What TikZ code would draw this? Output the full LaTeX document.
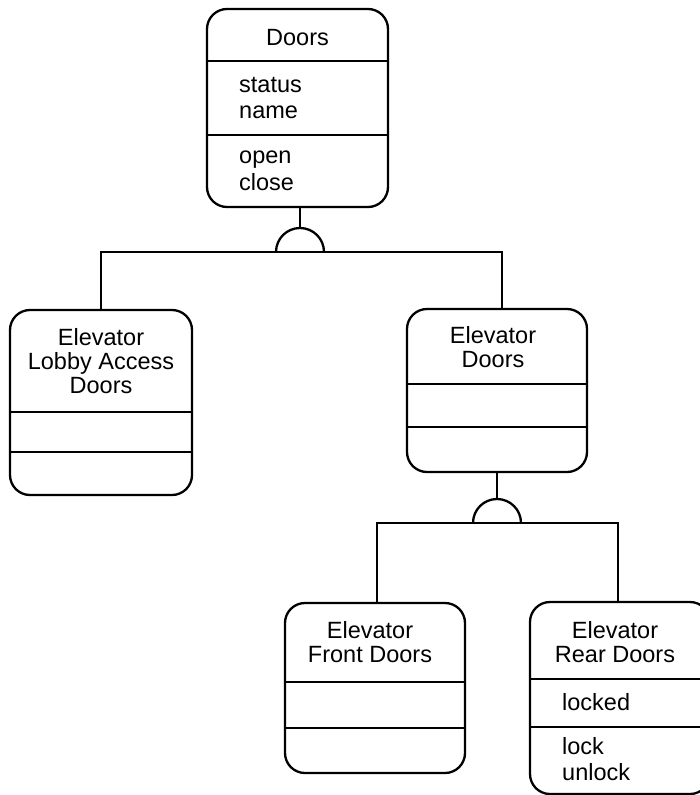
\documentclass[tikz,border=0pt]{standalone}
\usepackage{fontspec}
\setmainfont{Liberation Sans}
\usetikzlibrary{positioning}

\tikzset{
  classbox/.style={rectangle, rounded corners=20pt, draw=black, line width=2.3pt, inner sep=0pt},
  rule/.style={draw=black, line width=2.3pt},
  link/.style={draw=black, line width=2.3pt},
  ttl/.style={align=center, inner sep=0pt, font=\fontsize{23.5}{24}\selectfont},
  attr/.style={align=left, inner sep=0pt, font=\fontsize{23.5}{26.5}\selectfont}
}

\begin{document}
\begin{tikzpicture}[x=1pt, y=1pt]
\clip (0,0) rectangle (700,-795);
\useasboundingbox (0,0) rectangle (700,-795);

% Class boxes
\node (doors) [classbox, minimum width=181pt, minimum height=198pt] at (297.5,-108) {};
\node (lobby) [classbox, minimum width=182pt, minimum height=185pt] at (101,-402.5) {};
\node (elev) [classbox, minimum width=180pt, minimum height=163pt] at (497,-390.5) {};
\node (front) [classbox, minimum width=180pt, minimum height=170pt] at (375,-688) {};
\node (rear) [classbox, minimum width=180pt, minimum height=192pt] at (620,-698) {};

% Compartment lines
\draw[rule] (doors.west |- 0,-61) -- (doors.east |- 0,-61);
\draw[rule] (doors.west |- 0,-135) -- (doors.east |- 0,-135);
\draw[rule] (lobby.west |- 0,-412) -- (lobby.east |- 0,-412);
\draw[rule] (lobby.west |- 0,-452) -- (lobby.east |- 0,-452);
\draw[rule] (elev.west |- 0,-384) -- (elev.east |- 0,-384);
\draw[rule] (elev.west |- 0,-427) -- (elev.east |- 0,-427);
\draw[rule] (front.west |- 0,-682) -- (front.east |- 0,-682);
\draw[rule] (front.west |- 0,-728) -- (front.east |- 0,-728);
\draw[rule] (rear.west |- 0,-679) -- (rear.east |- 0,-679);
\draw[rule] (rear.west |- 0,-727) -- (rear.east |- 0,-727);

% Names and members
\node (doorsname) [ttl, anchor=north] at (297.5,-29) {Doors};
\node (doorsattr) [attr, anchor=north west] at (239,-77) {status\\name};
\node (doorsops) [attr, anchor=north west] at (239,-151) {open\\close};
\node (lobbyname) [ttl, anchor=north] at (101,-328) {Elevator\\Lobby Access\\Doors};
\node (elevname) [ttl, anchor=north] at (493,-326) {Elevator\\Doors};
\node (frontname) [ttl, anchor=north] at (370,-621) {Elevator\\Front Doors};
\node (rearname) [ttl, anchor=north] at (615,-621) {Elevator\\Rear Doors};
\node (rearattr) [attr, anchor=north west] at (562,-693) {locked};
\node (rearops) [attr, anchor=north west] at (562,-737) {lock\\unlock};

% Generalisation from Doors
\coordinate (gen1) at (300,-252);
\coordinate (gen1top) at (300,-228);
\draw[link] (doors.south -| gen1) -- (gen1top);
\draw[link] (gen1) ++(-24,0) arc[start angle=180, end angle=0, radius=24pt];
\draw[link] (lobby.north) |- (gen1) -| ([xshift=5pt]elev.north);

% Generalisation from Elevator Doors
\coordinate (gen2) at (497,-523);
\coordinate (gen2top) at (497,-499);
\draw[link] (elev.south) -- (gen2top);
\draw[link] (gen2) ++(-24,0) arc[start angle=180, end angle=0, radius=24pt];
\draw[link] ([xshift=2pt]front.north) |- (gen2) -| ([xshift=-2pt]rear.north);

\end{tikzpicture}
\end{document}
